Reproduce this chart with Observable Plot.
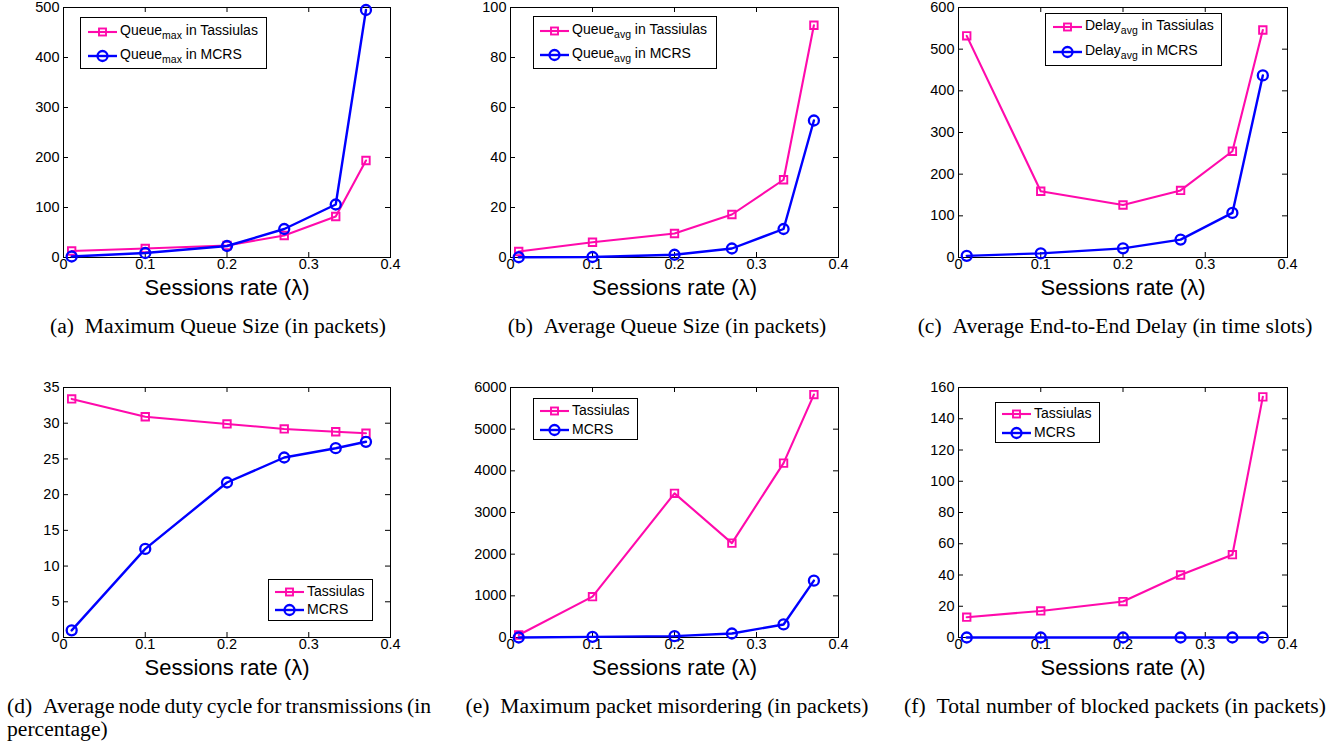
<!DOCTYPE html>
<html>
<head>
<meta charset="utf-8">
<script src="https://cdn.jsdelivr.net/npm/d3@7"></script>
<script src="https://cdn.jsdelivr.net/npm/@observablehq/plot@0.6"></script>
<style>
  html, body { margin: 0; padding: 0; background: #fff; }
  #root { position: relative; width: 1340px; height: 745px; overflow: hidden; background: #fff; }
  .panel { position: absolute; }
  .caption { position: absolute; font-family: "Liberation Serif", "Times New Roman", serif; font-size: 21.6px; color: #000; line-height: 23px; white-space: nowrap; text-align: center; }
  .legend { position: absolute; border: 1.3px solid #000; background: #fff; box-sizing: border-box; font-family: "Liberation Sans", Arial, sans-serif; font-size: 14px; color: #000; }
  .legend .row { position: absolute; left: 0; height: 20px; display: flex; align-items: center; }
  .legend svg { display: block; }
  .legend .lab { margin-left: 3px; white-space: nowrap; position: relative; top: -1px; }
  .legend sub { font-size: 10.5px; position: relative; top: 1px; }
</style>
</head>
<body>
<div id="root"></div>
<script>
// ---------------- data ----------------
const rates = [0.01, 0.1, 0.2, 0.27, 0.333, 0.37];
const xTicks = [0, 0.1, 0.2, 0.3, 0.4];
const xLabel = "Sessions rate (λ)";

const queueMaxTassiulas = [13, 18, 24, 44, 82, 194];
const queueMaxMCRS      = [2, 9, 23, 57, 106, 495];
const queueAvgTassiulas = [2.4, 6.1, 9.6, 17.2, 31.1, 92.9];
const queueAvgMCRS      = [0.1, 0.2, 1.1, 3.6, 11.4, 54.8];
const delayAvgTassiulas = [532, 159, 126, 161, 255, 546];
const delayAvgMCRS      = [4, 10, 22, 43, 107, 437];
const dutyTassiulas     = [33.4, 30.9, 29.9, 29.2, 28.8, 28.6];
const dutyMCRS          = [1.0, 12.4, 21.7, 25.2, 26.5, 27.4];
const misorderTassiulas = [60, 980, 3460, 2265, 4185, 5830];
const misorderMCRS      = [0, 16, 32, 96, 313, 1365];
const blockedTassiulas  = [13, 17, 23, 40, 53, 154];
const blockedMCRS       = [0, 0, 0, 0, 0, 0];

const yTicksA = [0, 100, 200, 300, 400, 500];
const yTicksB = [0, 20, 40, 60, 80, 100];
const yTicksC = [0, 100, 200, 300, 400, 500, 600];
const yTicksD = [0, 5, 10, 15, 20, 25, 30, 35];
const yTicksE = [0, 1000, 2000, 3000, 4000, 5000, 6000];
const yTicksF = [0, 20, 40, 60, 80, 100, 120, 140, 160];

const legendTassiulas = ["Queue<sub>max</sub> in Tassiulas", "Queue<sub>avg</sub> in Tassiulas", "Delay<sub>avg</sub> in Tassiulas", "Tassiulas", "Tassiulas", "Tassiulas"];
const legendMCRS      = ["Queue<sub>max</sub> in MCRS", "Queue<sub>avg</sub> in MCRS", "Delay<sub>avg</sub> in MCRS", "MCRS", "MCRS", "MCRS"];

const captions = [
  "(a)&ensp;Maximum Queue Size (in packets)",
  "(b)&ensp;Average Queue Size (in packets)",
  "(c)&ensp;Average End-to-End Delay (in time slots)",
  "(d)&ensp;Average node duty cycle for transmissions (in\npercentage)",
  "(e)&ensp;Maximum packet misordering (in packets)",
  "(f)&ensp;Total number of blocked packets (in packets)"
];

// ---------------- layout / style ----------------
const PINK = "#ff0aac";
const BLUE = "#0000ff";
const M = {left: 50, right: 15, top: 10, bottom: 45};
const TICK_FONT = 14.5;

const panels = [
  {t: queueMaxTassiulas, m: queueMaxMCRS, yt: yTicksA, L: 63, R: 390, T: 7, B: 257,
   leg: {x: 80, y: 17, w: 187, h: 52, sw: 7, rows: [14, 38]}},
  {t: queueAvgTassiulas, m: queueAvgMCRS, yt: yTicksB, L: 510, R: 838, T: 7, B: 257,
   leg: {x: 533, y: 16, w: 184, h: 53, sw: 6, rows: [14, 38]}},
  {t: delayAvgTassiulas, m: delayAvgMCRS, yt: yTicksC, L: 958, R: 1287, T: 7, B: 257,
   leg: {x: 1045, y: 13, w: 177, h: 53, sw: 7, rows: [13, 38]}},
  {t: dutyTassiulas, m: dutyMCRS, yt: yTicksD, L: 63, R: 390, T: 387, B: 637,
   leg: {x: 268, y: 579, w: 105, h: 42, sw: 6, rows: [12, 30]}},
  {t: misorderTassiulas, m: misorderMCRS, yt: yTicksE, L: 510, R: 838, T: 387, B: 637,
   leg: {x: 533, y: 398, w: 105, h: 42, sw: 6, rows: [12, 31]}},
  {t: blockedTassiulas, m: blockedMCRS, yt: yTicksF, L: 958, R: 1287, T: 387, B: 637,
   leg: {x: 995, y: 402, w: 105, h: 41, sw: 6, rows: [11, 30]}}
];

const capPos = [
  {cx: 218, top: 315}, {cx: 667, top: 315}, {cx: 1115, top: 315},
  {left: 7, width: 424, top: 695}, {cx: 667, top: 695}, {cx: 1115, top: 695}
];

const root = document.getElementById("root");
const fmt = d => String(d);

panels.forEach((p, i) => {
  const fw = p.R - p.L, fh = p.B - p.T;
  const data = rates.map((x, k) => ({x, t: p.t[k], m: p.m[k]}));
  const yMax = p.yt[p.yt.length - 1];
  const chart = Plot.plot({
    width: fw + M.left + M.right,
    height: fh + M.top + M.bottom,
    marginLeft: M.left, marginRight: M.right, marginTop: M.top, marginBottom: M.bottom,
    style: {fontFamily: "'Liberation Sans', Arial, sans-serif", fontSize: TICK_FONT + "px", color: "#000", background: "transparent", overflow: "visible"},
    x: {domain: [0, 0.4], axis: null},
    y: {domain: [0, yMax], axis: null},
    marks: [
      Plot.text(xTicks, {x: d => d, text: fmt, frameAnchor: "bottom", dy: 11, fontSize: TICK_FONT, fill: "#000"}),
      Plot.text(p.yt, {y: d => d, text: fmt, frameAnchor: "left", dx: -4, textAnchor: "end", fontSize: TICK_FONT, fill: "#000"}),
      Plot.tickX(xTicks, {x: d => d, insetTop: fh - 5, stroke: "#000", strokeWidth: 1}),
      Plot.tickX(xTicks, {x: d => d, insetBottom: fh - 5, stroke: "#000", strokeWidth: 1}),
      Plot.tickY(p.yt, {y: d => d, insetRight: fw - 5, stroke: "#000", strokeWidth: 1}),
      Plot.tickY(p.yt, {y: d => d, insetLeft: fw - 5, stroke: "#000", strokeWidth: 1}),
      Plot.frame({stroke: "#000", strokeWidth: 1}),
      Plot.line(data, {x: "x", y: "t", stroke: PINK, strokeWidth: 2.1}),
      Plot.dot(data, {x: "x", y: "t", symbol: "square", r: 4.2, stroke: PINK, strokeWidth: 1.9, fill: "none"}),
      Plot.line(data, {x: "x", y: "m", stroke: BLUE, strokeWidth: 2.4}),
      Plot.dot(data, {x: "x", y: "m", symbol: "circle", r: 5, stroke: BLUE, strokeWidth: 2.3, fill: "none"}),
      Plot.text([xLabel], {text: d => d, frameAnchor: "bottom", dy: 37, fontSize: 22, fill: "#000"})
    ]
  });
  const wrap = document.createElement("div");
  wrap.className = "panel";
  wrap.style.left = (p.L - M.left) + "px";
  wrap.style.top = (p.T - M.top) + "px";
  wrap.appendChild(chart);
  root.appendChild(wrap);

  // legend
  const lg = document.createElement("div");
  lg.className = "legend";
  Object.assign(lg.style, {left: p.leg.x + "px", top: p.leg.y + "px", width: p.leg.w + "px", height: p.leg.h + "px"});
  [[legendTassiulas[i], PINK, "square"], [legendMCRS[i], BLUE, "circle"]].forEach(([lab, col, sym], r) => {
    const row = document.createElement("div");
    row.className = "row";
    row.style.top = (p.leg.rows[r] - 10) + "px";
    row.style.left = p.leg.sw + "px";
    const marker = sym === "square"
      ? `<rect x="11" y="6.5" width="7" height="7" fill="none" stroke="${col}" stroke-width="1.9"/>`
      : `<circle cx="14.5" cy="10" r="5" fill="none" stroke="${col}" stroke-width="2.3"/>`;
    row.innerHTML = `<svg width="29" height="20"><line x1="0" y1="10" x2="29" y2="10" stroke="${col}" stroke-width="${sym === "square" ? 2.1 : 2.4}"/>${marker}</svg><span class="lab">${lab}</span>`;
    lg.appendChild(row);
  });
  root.appendChild(lg);
});

// captions
captions.forEach((c, i) => {
  const cp = capPos[i];
  const lines = c.split("\n");
  lines.forEach((line, j) => {
    const d = document.createElement("div");
    d.className = "caption";
    d.innerHTML = line;
    const top = cp.top + j * 23;
    if (cp.width) {
      const justify = j < lines.length - 1;
      Object.assign(d.style, {left: cp.left + "px", width: cp.width + "px", top: top + "px",
        textAlign: justify ? "justify" : "left", textAlignLast: justify ? "justify" : "left",
        wordSpacing: justify ? "-1.5px" : "normal"});
    } else {
      Object.assign(d.style, {left: (cp.cx - 300) + "px", width: "600px", top: top + "px"});
    }
    root.appendChild(d);
  });
});
</script>
</body>
</html>
